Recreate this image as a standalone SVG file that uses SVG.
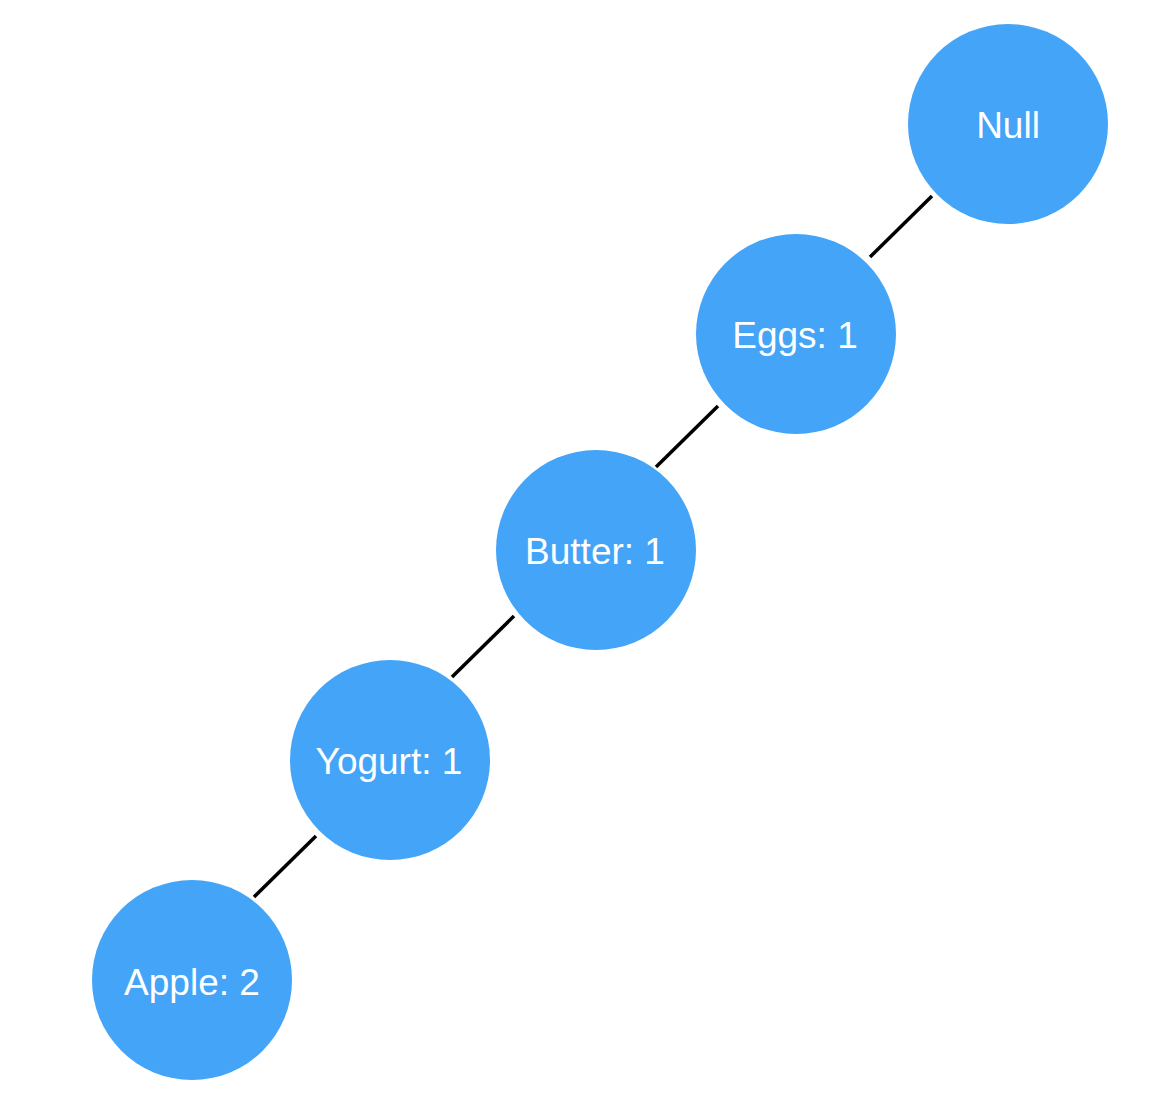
<svg xmlns="http://www.w3.org/2000/svg" width="1154" height="1114" viewBox="0 0 1154 1114">
<style>
.n{fill:#43A4F8}
.t{fill:#fff;font-family:"Liberation Sans",Arial,sans-serif;font-size:37px;text-anchor:middle}
.e{stroke:#000;stroke-width:3.5;fill:none}
</style>
<rect width="1154" height="1114" fill="#fff"/>
<g id="edges">
<line class="e" x1="870" y1="257" x2="932" y2="196"/>
<line class="e" x1="656" y1="467" x2="718" y2="406"/>
<line class="e" x1="452" y1="677" x2="514" y2="616"/>
<line class="e" x1="254" y1="897" x2="316" y2="836"/>
</g>
<g id="null"><circle class="n" cx="1008" cy="124" r="100"/><text class="t" x="1008" y="138">Null</text></g>
<g id="eggs"><circle class="n" cx="796" cy="334" r="100"/><text class="t" x="795" y="348">Eggs: 1</text></g>
<g id="butter"><circle class="n" cx="596" cy="550" r="100"/><text class="t" x="595" y="564">Butter: 1</text></g>
<g id="yogurt"><circle class="n" cx="390" cy="760" r="100"/><text class="t" x="389" y="774">Yogurt: 1</text></g>
<g id="apple"><circle class="n" cx="192" cy="980" r="100"/><text class="t" x="192" y="995">Apple: 2</text></g>
</svg>
